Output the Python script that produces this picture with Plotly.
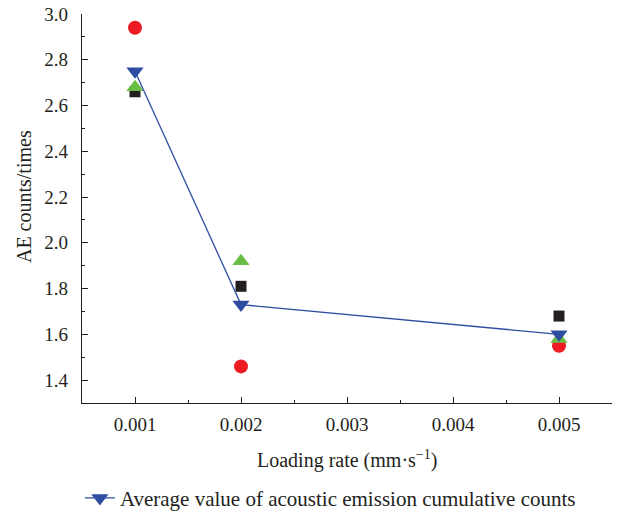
import plotly.graph_objects as go

loading_rate = [0.001, 0.002, 0.005]
sample_black = [2.66, 1.81, 1.68]
sample_red = [2.94, 1.46, 1.55]
sample_green = [2.68, 1.92, 1.58]
average = [2.75, 1.73, 1.60]

x_ticks = [0.001, 0.002, 0.003, 0.004, 0.005]
x_tick_labels = ["0.001", "0.002", "0.003", "0.004", "0.005"]
y_ticks = [1.4, 1.6, 1.8, 2.0, 2.2, 2.4, 2.6, 2.8, 3.0]
y_tick_labels = ["1.4", "1.6", "1.8", "2.0", "2.2", "2.4", "2.6", "2.8", "3.0"]

x_title = "Loading rate (mm·s<sup>−1</sup>)"
y_title = "AE counts/times"
legend_name = "Average value of acoustic emission cumulative counts"

FONT = "Liberation Serif"
INK = "#231F20"

fig = go.Figure()
fig.add_trace(go.Scatter(x=loading_rate, y=sample_black, mode="markers", showlegend=False,
                         marker=dict(symbol="square", size=11, color=INK)))
fig.add_trace(go.Scatter(x=loading_rate, y=sample_red, mode="markers", showlegend=False,
                         marker=dict(symbol="circle", size=14, color="#ED1C24")))
fig.add_trace(go.Scatter(x=loading_rate, y=sample_green, mode="markers", showlegend=False,
                         marker=dict(symbol="triangle-up", size=15, color="#6ABD45")))
fig.add_trace(go.Scatter(x=loading_rate, y=average, mode="lines+markers",
                         name=legend_name,
                         line=dict(color="#2E4DA0", width=1.3),
                         marker=dict(symbol="triangle-down", size=15, color="#2E4DA0")))

fig.update_layout(
    width=618, height=514,
    margin=dict(l=82, r=6, t=14, b=111, autoexpand=False),
    paper_bgcolor="white", plot_bgcolor="white",
    font=dict(family=FONT, size=19, color=INK),
    showlegend=True,
    legend=dict(orientation="h", x=-0.004, xanchor="left", y=-0.245, yanchor="middle",
                font=dict(family=FONT, size=21, color=INK), itemwidth=30,
                bgcolor="rgba(0,0,0,0)"),
    hovermode=False,
    annotations=[
        dict(text=x_title, xref="paper", yref="paper", x=0.5, y=-0.1465,
             xanchor="center", yanchor="middle", showarrow=False,
             font=dict(family=FONT, size=20, color=INK)),
        dict(text=y_title, xref="paper", yref="paper", x=-0.109, y=0.53,
             xanchor="center", yanchor="middle", showarrow=False, textangle=-90,
             font=dict(family=FONT, size=20, color=INK)),
    ],
)
fig.update_xaxes(
    range=[0.0005, 0.0055], tickmode="array", tickvals=x_ticks, ticktext=x_tick_labels,
    showline=True, linecolor=INK, linewidth=1.3, mirror=False, automargin=False,
    ticks="inside", ticklen=6, tickwidth=1.2, tickcolor=INK,
    minor=dict(ticks="inside", ticklen=3, tickwidth=1.2, tickcolor=INK,
               tickvals=[0.0015, 0.0025, 0.0035, 0.0045, 0.0055]),
    showgrid=False, zeroline=False, ticklabelstandoff=4,
    tickfont=dict(family=FONT, size=19, color=INK),
)
fig.update_yaxes(
    range=[1.3, 3.0], tickmode="array", tickvals=y_ticks, ticktext=y_tick_labels,
    showline=True, linecolor=INK, linewidth=1.3, mirror=False, automargin=False,
    ticks="inside", ticklen=6, tickwidth=1.2, tickcolor=INK,
    minor=dict(ticks="inside", ticklen=3, tickwidth=1.2, tickcolor=INK,
               tickvals=[1.3, 1.5, 1.7, 1.9, 2.1, 2.3, 2.5, 2.7, 2.9]),
    showgrid=False, zeroline=False, ticklabelstandoff=9,
    tickfont=dict(family=FONT, size=19, color=INK),
)

fig.write_html("out.html")
